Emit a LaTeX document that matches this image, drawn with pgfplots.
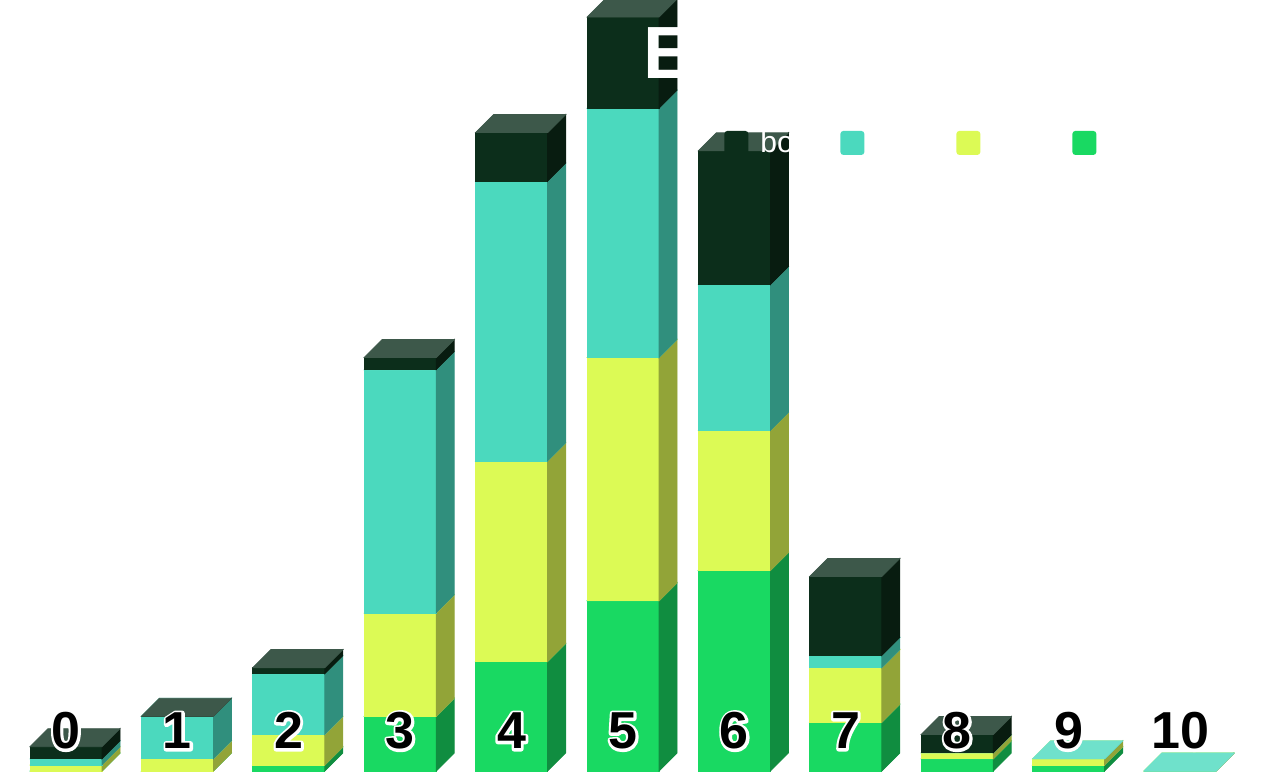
\documentclass[border=0pt]{standalone}
\usepackage{fontspec}
\setmainfont{Liberation Sans}
\usepackage{pgfplots}
\usepackage{pgfplotstable}
\pgfplotsset{compat=1.18}

\definecolor{cg}{HTML}{19D962}
\definecolor{cgs}{HTML}{108D40}
\definecolor{cgt}{HTML}{5EE491}
\definecolor{cy}{HTML}{DCFA55}
\definecolor{cys}{HTML}{92A438}
\definecolor{cyt}{HTML}{E3FB77}
\definecolor{ct}{HTML}{4BD9BE}
\definecolor{cts}{HTML}{308F7D}
\definecolor{ctt}{HTML}{6FE1CB}
\definecolor{cd}{HTML}{0C2E1B}
\definecolor{cds}{HTML}{081C10}
\definecolor{cdt}{HTML}{3D584A}

% black digit with a white outline: stroked white copy under the filled one
\newcommand\lbl[1]{\leavevmode\rlap{\special{pdf:literal direct 1 Tr 2.6 w 1 j}\textcolor{white}{#1}\special{pdf:literal direct 0 Tr 0.4 w 0 j}}#1}

\pgfdeclareplotmark{nothing}{}

% one box per stacked segment: front, right side, top  (1px = 0.5pt)
\newcommand\seg[1]{%
  \fill[#1] (-18pt,0pt) rectangle (18pt,{\h*3.04pt});
  \fill[#1s] (18pt,0pt) -- (27pt,9pt) -- (27pt,{\h*3.04pt+9pt}) -- (18pt,{\h*3.04pt}) -- cycle;
  \fill[#1t] (-18pt,{\h*3.04pt}) -- (18pt,{\h*3.04pt}) -- (27pt,{\h*3.04pt+9pt}) -- (-9pt,{\h*3.04pt+9pt}) -- cycle;
}

% columns 9 and 10 have no top series (d skipped there)
\pgfplotstableread{
x  g  yl t  d
0  0  1  1  2
1  0  2  7  0
2  1  5  10 1
3  9  17 40 2
4  18 33 46 8
5  28 40 41 15
6  33 23 24 22
7  8  9  2  13
8  2  1  0  3
9  1  1  0  0
10 0  0  0  0
}\data

\pgfplotsset{
  box/.style n args={2}{scatter, only marks, mark=nothing, forget plot,
    visualization depends on={\thisrow{#2} \as \h},
    scatter/@pre marker code/.code={\seg{#1}},
    scatter/@post marker code/.code={}},
}

\begin{document}
\begin{tikzpicture}
\begin{axis}[
  at={(5.15pt,5.5pt)}, anchor=south west,
  x=55.7pt, y=3.04pt,
  xmin=-0.5, xmax=10.5, ymin=0, ymax=130,
  clip=false, set layers=axis on top,
  axis line style={draw=none},
  ytick=\empty, xtick={0,...,10}, major tick length=0pt,
  xticklabels={\lbl{0},\lbl{1},\lbl{2},\lbl{3},\lbl{4},\lbl{5},\lbl{6},\lbl{7},\lbl{8},\lbl{9},\lbl{10}},
  xticklabel style={anchor=base, yshift=11pt, inner sep=0pt,
    font=\fontsize{26}{30}\selectfont\bfseries},
  legend columns=4,
  legend style={at={(axis description cs:0.5824,0.7946)}, anchor=west,
    draw=none, fill=none, inner sep=0pt,
    font=\fontsize{15}{18}\selectfont, text=white,
    /tikz/every odd column/.style={column sep=6pt},
    nodes={inner sep=0pt, text=white}},
  legend image code/.code={\fill[#1, rounded corners=1.5pt] (0pt,-6pt) rectangle (12pt,6pt);},
]
\addplot[box={cg}{g}] table[x=x, y expr=0] {\data};
\addplot[box={cy}{yl}] table[x=x, y=g] {\data};
\addplot[box={ct}{t}] table[x=x, y expr=\thisrow{g}+\thisrow{yl}] {\data};
\addplot[box={cd}{d}, skip coords between index={9}{11}]
  table[x=x, y expr=\thisrow{g}+\thisrow{yl}+\thisrow{t}] {\data};

\addlegendimage{fill=cd, draw=none}
\addlegendentry{\makebox[40pt][l]{boys}}
\addlegendimage{fill=ct, draw=none}
\addlegendentry{\makebox[40pt][l]{girls}}
\addlegendimage{fill=cy, draw=none}
\addlegendentry{\makebox[40pt][l]{adults}}
\addlegendimage{fill=cg, draw=none}
\addlegendentry{\makebox[40pt][l]{seniors}}
\end{axis}
\node[anchor=base west, inner sep=0pt, text=white,
  font=\fontsize{37}{44}\selectfont\bfseries] at (321.3pt,351.5pt) {Exam scores};
\pgfresetboundingbox
\path[use as bounding box] (0,0) rectangle (632pt,391pt);
\end{tikzpicture}
\end{document}
